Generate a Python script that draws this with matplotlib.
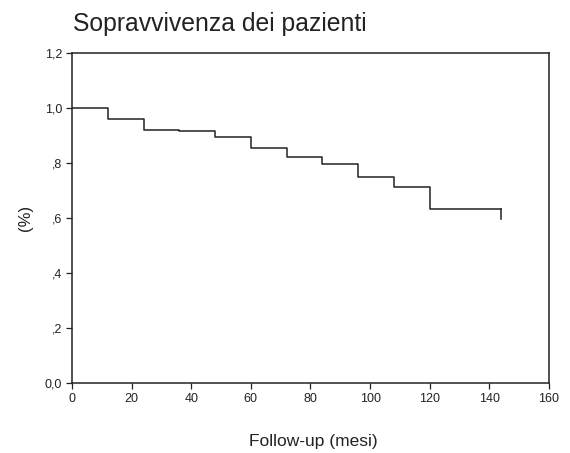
import matplotlib
matplotlib.use("Agg")
from matplotlib import pyplot as plt
from matplotlib.ticker import FuncFormatter

# Kaplan-Meier survival
mesi = [0, 12, 24, 36, 48, 60, 72, 84, 96, 108, 120, 144]
sopravvivenza = [1.0, 0.96, 0.921, 0.915, 0.896, 0.856, 0.822, 0.796, 0.748, 0.712, 0.634, 0.634]
fine_mesi = 144
fine_valore = 0.595

x_ticks = [0, 20, 40, 60, 80, 100, 120, 140, 160]
y_ticks = [0.0, 0.2, 0.4, 0.6, 0.8, 1.0, 1.2]

plt.rcParams['font.family'] = ['Liberation Sans', 'DejaVu Sans']

fig = plt.figure(figsize=(5.7, 4.53), dpi=100)
ax = fig.add_axes([0.1263, 0.1545, 0.8368, 0.7285])

ax.step(mesi, sopravvivenza, where='post', color='#222222', linewidth=1.1)
ax.plot([fine_mesi, fine_mesi], [sopravvivenza[-1], fine_valore], color='#222222', linewidth=1.1)

ax.set_xlim(0, 160)
ax.set_ylim(0, 1.2)
ax.set_xticks(x_ticks)
ax.set_yticks(y_ticks)


def etichetta_y(v, pos):
    s = f"{v:.1f}".replace('.', ',')
    if s.startswith('0,') and v != 0:
        s = s[1:]
    return s


ax.yaxis.set_major_formatter(FuncFormatter(etichetta_y))
ax.tick_params(direction='out', length=4, width=0.9, labelsize=9, colors='#222222', pad=3)
for sp in ax.spines.values():
    sp.set_color('#222222')
    sp.set_linewidth(1.1)

fig.text(73 / 570, 1 - 31.5 / 453, 'Sopravvivenza dei pazienti', fontsize=17.8,
         ha='left', va='baseline', color='#222222')
fig.text(25 / 570, 1 - 218 / 453, '(%)', fontsize=12, rotation=90,
         ha='center', va='center', color='#222222')
fig.text(313 / 570, 1 - 446 / 453, 'Follow-up (mesi)', fontsize=12.5,
         ha='center', va='baseline', color='#222222')

fig.savefig('out.png', dpi=100)
